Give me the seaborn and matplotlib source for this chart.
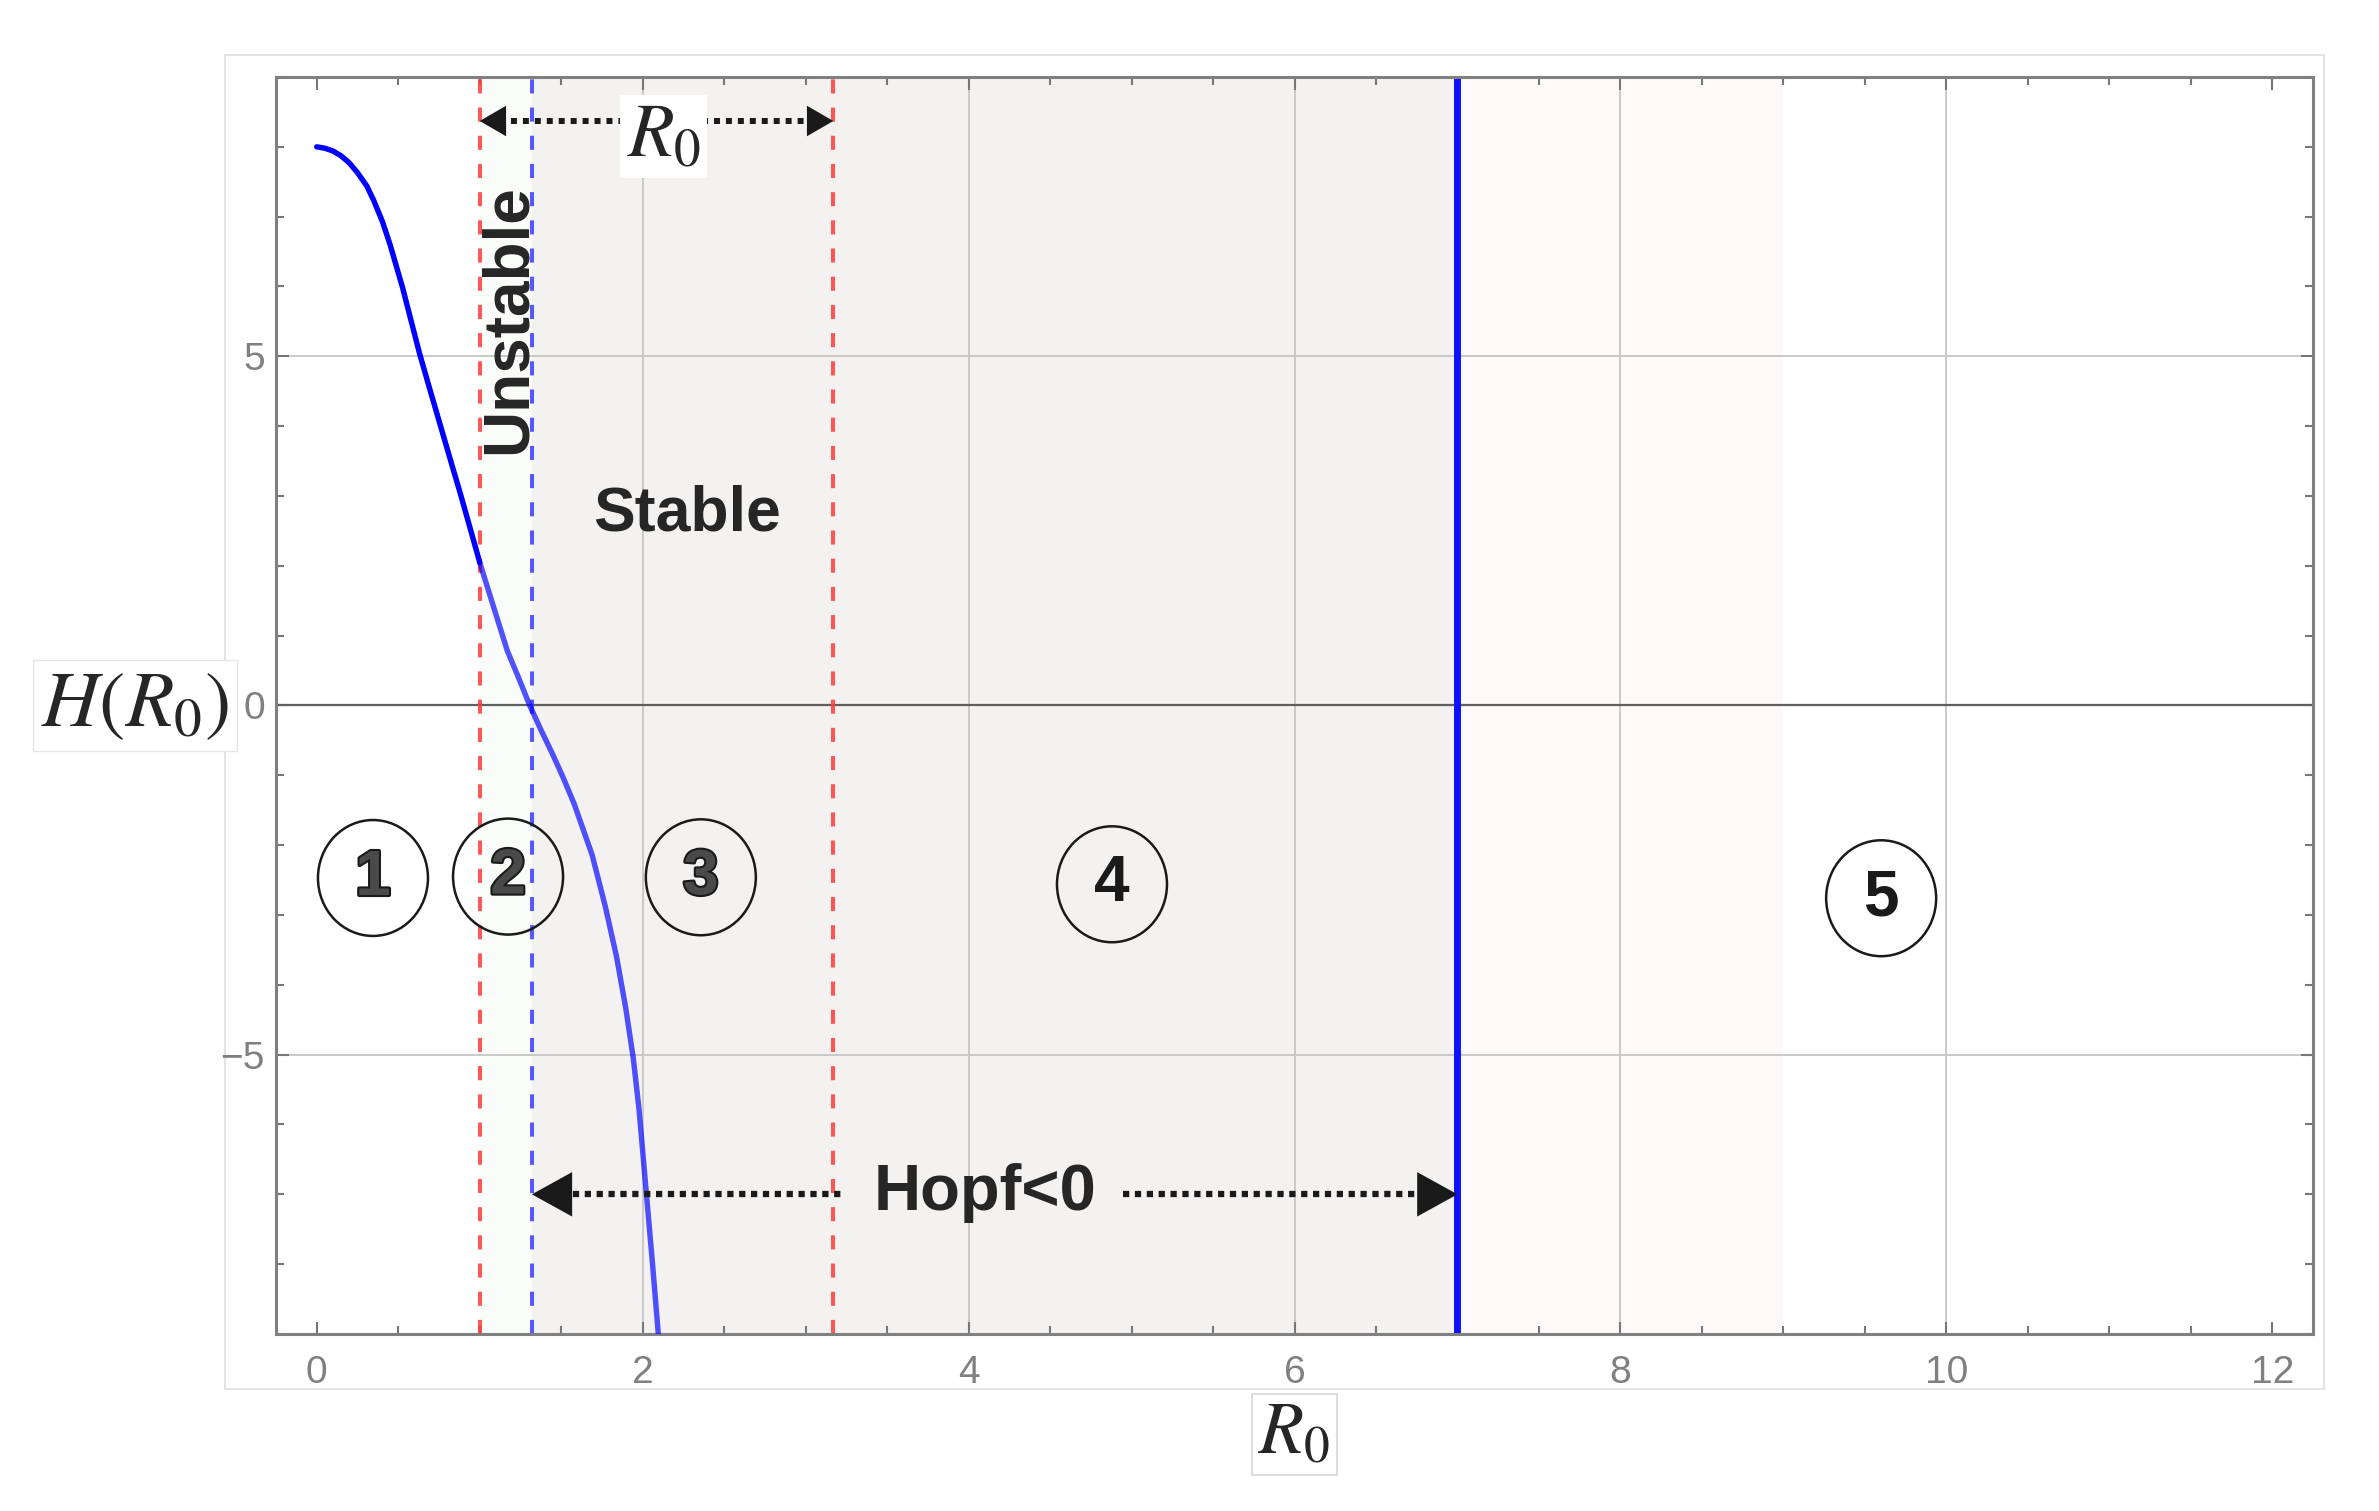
import matplotlib
matplotlib.use("Agg")
import matplotlib.pyplot as plt
import matplotlib.patheffects as pe
from matplotlib.patches import Ellipse, Rectangle
from matplotlib.ticker import MultipleLocator
import pandas as pd
import seaborn as sns

# H(R0) curve, values
r0_vals = [0.0, 0.05, 0.1, 0.15, 0.2, 0.25, 0.307, 0.35, 0.403, 0.45, 0.526, 0.58,
           0.631, 0.70, 0.760, 0.82, 0.883, 0.94, 1.0,
           1.08, 1.17, 1.24, 1.307, 1.38, 1.444, 1.51, 1.58, 1.69, 1.77, 1.84, 1.896,
           1.943, 1.978, 2.019, 2.06, 2.096]
h_vals = [8.0, 7.98, 7.94, 7.87, 7.77, 7.63, 7.44, 7.23, 6.93, 6.6, 5.99, 5.5,
          5.04, 4.48, 4.0, 3.52, 3.02, 2.55, 2.05,
          1.45, 0.78, 0.39, 0.0, -0.37, -0.68, -1.02, -1.41, -2.14, -2.87, -3.6, -4.33,
          -5.06, -5.79, -6.89, -7.98, -9.0]

# vertical markers
red_dashed = [1.0, 3.17]
blue_dashed = [1.32]
hopf_line = 7.0

# shaded regions (start, end, colour)
regions = [(1.0, 1.32, "#f9fcf9"), (1.32, 7.0, "#f3f2f0"), (7.0, 9.0, "#fdf9f8")]

# circled region numbers
circle_labels = ["1", "2", "3", "4", "5"]
circle_x = [0.345, 1.174, 2.357, 4.88, 9.60]
circle_y = [-2.47, -2.45, -2.46, -2.56, -2.76]

grid_x = [2, 4, 6, 8, 10]
grid_y = [-5, 5]

sns.set_theme(style="ticks")
plt.rcParams["font.family"] = ["Liberation Sans", "DejaVu Sans"]
plt.rcParams["mathtext.fontset"] = "stix"

fig = plt.figure(figsize=(23.79, 15.11), dpi=100)
W, H = 2379, 1511
ax = fig.add_axes([276 / W, 1 - 1334 / H, (2313 - 276) / W, (1334 - 77) / H])

# thin panel frame around the plot
fig.add_artist(Rectangle((225 / W, 1 - 1389 / H), (2324 - 225) / W, (1389 - 55) / H,
                         transform=fig.transFigure, fill=False, ec="#e4e4e4", lw=1.5, zorder=-5))

for x0, x1, c in regions:
    ax.axvspan(x0, x1, color=c, lw=0, zorder=0)
for gx in grid_x:
    ax.axvline(gx, color="#c9c9c9", lw=1.4, zorder=0.5)
for gy in grid_y:
    ax.axhline(gy, color="#c9c9c9", lw=1.4, zorder=0.5)
ax.axhline(0, color="#5f5f5f", lw=1.6, zorder=0.6)

df = pd.DataFrame({"R0": r0_vals, "H": h_vals})
sns.lineplot(data=df[df["R0"] <= 1.0], x="R0", y="H", color="#0000ff", lw=3.9,
             estimator=None, ax=ax, zorder=3)
sns.lineplot(data=df[df["R0"] >= 1.0], x="R0", y="H", color="#0000ff", alpha=0.68, lw=3.9,
             estimator=None, ax=ax, zorder=3)

for x in red_dashed:
    ax.axvline(x, color="#ff3b3b", alpha=0.85, lw=2.9, ls=(0, (3.5, 3.5)), zorder=2)
for x in blue_dashed:
    ax.axvline(x, color="#3b3bff", alpha=0.85, lw=2.9, ls=(0, (3.5, 3.5)), zorder=2)
ax.axvline(hopf_line, color="#1010ff", lw=5, zorder=2.5)


def head(tip, y, direction, length, width):
    ax.annotate("", xy=(tip, y), xytext=(tip - direction * 0.6, y),
                arrowprops=dict(arrowstyle=f"-|>,head_length={length},head_width={width}",
                                fc="k", ec="none", lw=0, shrinkA=0, shrinkB=0,
                                mutation_scale=1), zorder=4)


# R0 range arrow on top
ax.plot([1.12, 3.05], [8.37, 8.37], color="k", lw=4.3, ls=(0, (1, 1.0)),
        dash_capstyle="butt", zorder=4)
head(red_dashed[0], 8.37, -1, 19, 11)
head(red_dashed[1], 8.37, 1, 19, 11)
ax.text(2.13, 8.15, "$R_0$", fontsize=55, ha="center", va="center", zorder=5,
        bbox=dict(boxstyle="square,pad=0.08", fc="white", ec="none"))

# Hopf<0 arrow
ax.plot([1.5, 3.25], [-7.0, -7.0], color="k", lw=4.5, ls=(0, (1, 0.9)),
        dash_capstyle="butt", zorder=4)
ax.plot([4.95, 6.8], [-7.0, -7.0], color="k", lw=4.5, ls=(0, (1, 0.9)),
        dash_capstyle="butt", zorder=4)
head(blue_dashed[0], -7.0, -1, 29, 16)
head(hopf_line, -7.0, 1, 29, 16)
ax.text(4.10, -7.22, "Hopf<0", fontsize=47, fontweight="bold", ha="center",
        va="baseline", zorder=5)

ax.text(1.18, 5.53, "Unstable", fontsize=46, fontweight="bold", rotation=90,
        ha="center", va="center", zorder=5)
ax.text(2.27, 2.51, "Stable", fontsize=45, fontweight="bold", ha="center",
        va="baseline", zorder=5)

for lab, cx, cy in zip(circle_labels, circle_x, circle_y):
    ax.add_patch(Ellipse((cx, cy), 0.675, 1.66, fill=False, ec="k", lw=1.8, zorder=5))
    if lab in ("1", "2", "3"):
        ax.text(cx, cy, lab, fontsize=46, fontweight="bold", color="#4a4a4a",
                ha="center", va="center", zorder=6,
                path_effects=[pe.Stroke(linewidth=3, foreground="k"), pe.Normal()])
    else:
        ax.text(cx, cy, lab, fontsize=46, fontweight="bold", color="k",
                ha="center", va="center", zorder=6)

ax.set_xlim(-0.25, 12.25)
ax.set_ylim(-9, 9)
ax.xaxis.set_major_locator(MultipleLocator(2))
ax.xaxis.set_minor_locator(MultipleLocator(0.5))
ax.yaxis.set_major_locator(MultipleLocator(5))
ax.yaxis.set_minor_locator(MultipleLocator(1))
ax.tick_params(which="both", direction="in", top=True, right=True, color="#777777",
               labelcolor="#808080", labelsize=28, width=1.5)
ax.tick_params(which="major", length=9)
ax.tick_params(which="minor", length=5.5)
ax.tick_params(axis="x", pad=15)
ax.tick_params(axis="y", pad=8)
for s in ax.spines.values():
    s.set_color("#808080")
    s.set_linewidth(2.2)

ax.set_xlabel("$R_0$", fontsize=53, va="center",
              bbox=dict(boxstyle="square,pad=0.08", fc="white", ec="#d6d6d6", lw=1.2))
ax.xaxis.set_label_coords(0.5, -0.08)
ax.set_ylabel("$H(R_0)$", fontsize=57, rotation=0, ha="center", va="center",
              bbox=dict(boxstyle="square,pad=0.1", fc="white", ec="#e6e6e6", lw=1.0))
ax.yaxis.set_label_coords(-0.069, 0.5)

fig.savefig("out.png", dpi=100, facecolor="white")
